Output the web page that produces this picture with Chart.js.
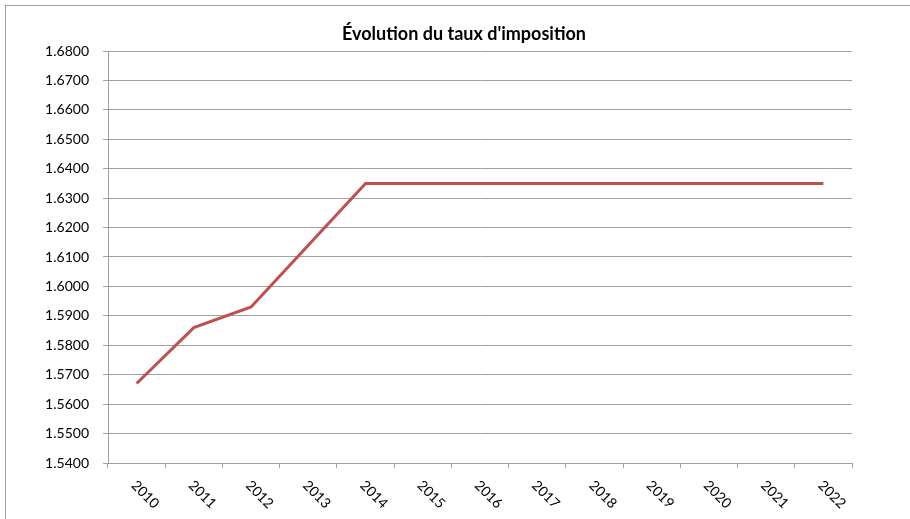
<!DOCTYPE html>
<html>
<head>
<meta charset="utf-8">
<script src="https://cdn.jsdelivr.net/npm/chart.js@4/dist/chart.umd.min.js"></script>
<style>
  html, body { margin: 0; padding: 0; background: #fff; }
  #wrap { width: 910px; height: 519px; }
</style>
</head>
<body>
<div id="wrap"><canvas id="chart" width="910" height="519"></canvas></div>
<script>
// données
const annees = ['2010', '2011', '2012', '2013', '2014', '2015', '2016', '2017', '2018', '2019', '2020', '2021', '2022'];
const taux = [1.567, 1.586, 1.593, 1.614, 1.635, 1.635, 1.635, 1.635, 1.635, 1.635, 1.635, 1.635, 1.635];
const titre = "Évolution du taux d'imposition";
const yMin = 1.54;
const yMax = 1.68;
const yPas = 0.01;

const police = 'Lato, "Open Sans", sans-serif';
const gris = '#a0a0a0';

// cadre + titre + étiquettes x tournées dans le sens horaire
const decor = {
  id: 'decor',
  beforeDraw(chart) {
    const ctx = chart.ctx;
    ctx.save();
    ctx.strokeStyle = gris;
    ctx.lineWidth = 1;
    ctx.strokeRect(5.5, 5.5, 1200, 1200);
    ctx.restore();
  },
  afterDraw(chart) {
    const ctx = chart.ctx;
    const x = chart.scales.x;
    ctx.save();
    ctx.fillStyle = '#000';
    ctx.font = 'bold 18px ' + police;
    ctx.textAlign = 'center';
    ctx.textBaseline = 'middle';
    ctx.fillText(titre, 464, 34);

    ctx.font = '14px ' + police;
    ctx.textAlign = 'left';
    ctx.textBaseline = 'middle';
    annees.forEach((a, i) => {
      const px = x.getPixelForValue(i);
      ctx.save();
      ctx.translate(px - 3, 483);
      ctx.rotate(Math.PI / 4);
      ctx.fillText(a, 0, 0);
      ctx.restore();
    });
    ctx.restore();
  }
};

new Chart(document.getElementById('chart'), {
  type: 'line',
  data: {
    labels: annees,
    datasets: [{
      label: 'Taux',
      data: taux,
      borderColor: '#c0504d',
      borderWidth: 3,
      pointRadius: 0,
      tension: 0,
      fill: false
    }]
  },
  options: {
    responsive: false,
    animation: false,
    layout: { padding: { left: 0, right: 58, top: 51, bottom: 0 } },
    plugins: {
      legend: { display: false },
      title: { display: false },
      tooltip: { enabled: false }
    },
    scales: {
      x: {
        offset: true,
        grid: {
          offset: true,
          drawOnChartArea: false,
          drawTicks: true,
          tickLength: 5,
          color: gris
        },
        border: { color: gris },
        ticks: { display: false },
        afterFit(s) { s.height = 519 - 463; }
      },
      y: {
        min: yMin,
        max: yMax,
        grid: { color: gris, tickLength: 5 },
        border: { color: gris },
        ticks: {
          stepSize: yPas,
          padding: 14,
          color: '#000',
          font: { family: police, size: 14 },
          callback: v => Number(v).toFixed(4)
        },
        afterFit(s) { s.width = 108; }
      }
    }
  },
  plugins: [decor]
});
</script>
</body>
</html>
